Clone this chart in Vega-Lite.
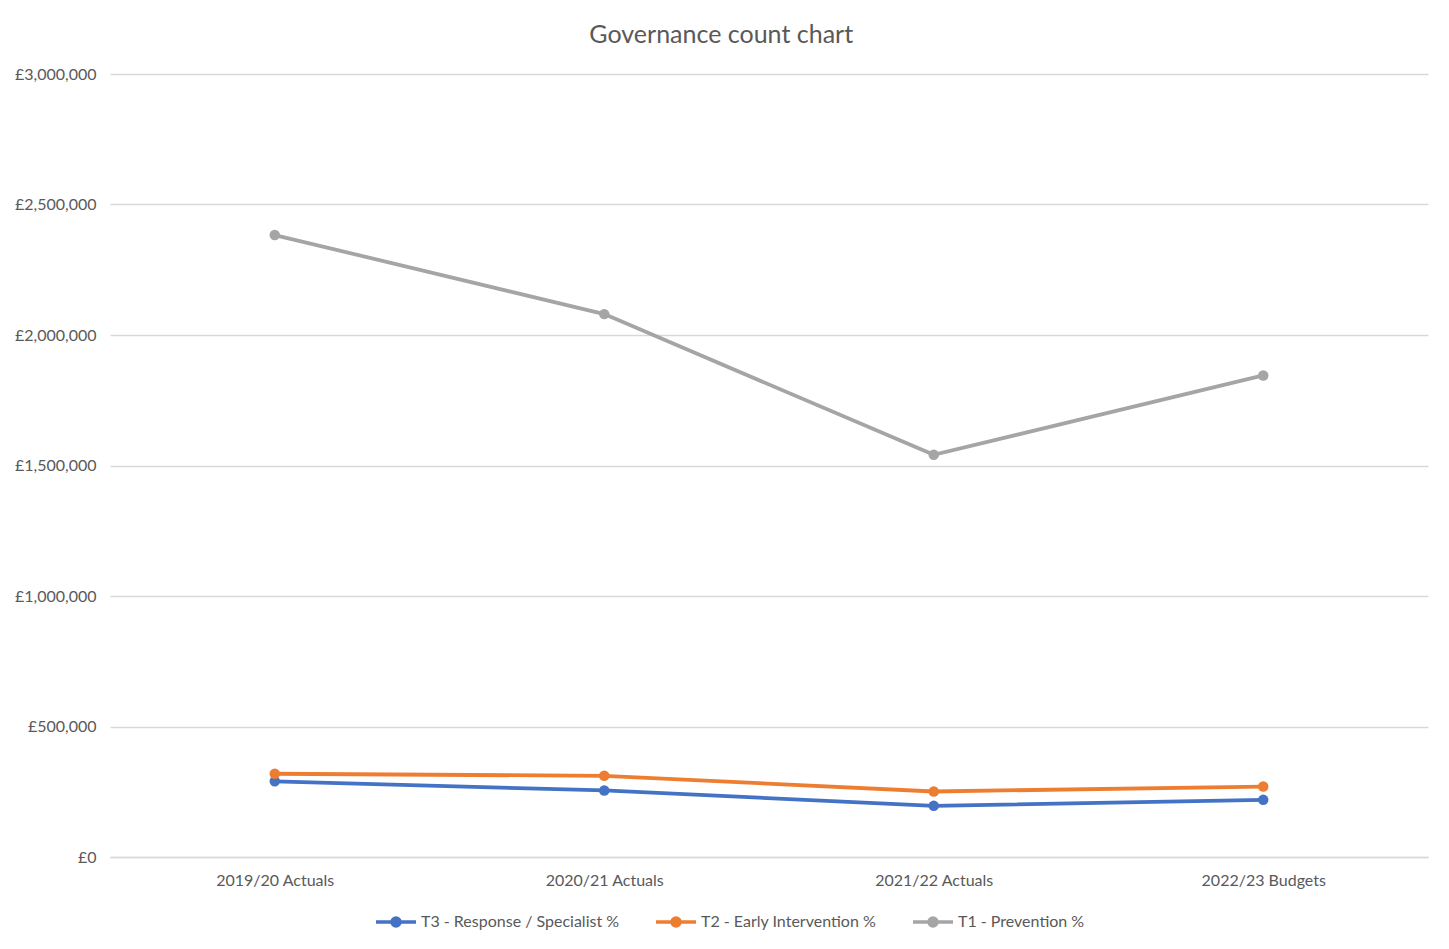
{
  "$schema": "https://vega.github.io/schema/vega-lite/v6.json",
  "autosize": {"type": "none"},
  "width": 1318,
  "height": 783,
  "padding": {"left": 110, "top": 74, "right": 21, "bottom": 92},
  "background": "#ffffff",
  "title": {
    "text": "Governance count chart",
    "frame": "bounds",
    "anchor": "middle",
    "offset": 18,
    "font": "Lato",
    "fontSize": 25,
    "fontWeight": "normal",
    "color": "#595959"
  },
  "data": {
    "values": [
      {"year": "2019/20 Actuals", "series": "T3 - Response / Specialist %", "amount": 290000},
      {"year": "2020/21 Actuals", "series": "T3 - Response / Specialist %", "amount": 255000},
      {"year": "2021/22 Actuals", "series": "T3 - Response / Specialist %", "amount": 196000},
      {"year": "2022/23 Budgets", "series": "T3 - Response / Specialist %", "amount": 219000},
      {"year": "2019/20 Actuals", "series": "T2 - Early Intervention %", "amount": 319000},
      {"year": "2020/21 Actuals", "series": "T2 - Early Intervention %", "amount": 311000},
      {"year": "2021/22 Actuals", "series": "T2 - Early Intervention %", "amount": 251000},
      {"year": "2022/23 Budgets", "series": "T2 - Early Intervention %", "amount": 270000},
      {"year": "2019/20 Actuals", "series": "T1 - Prevention %", "amount": 2383000},
      {"year": "2020/21 Actuals", "series": "T1 - Prevention %", "amount": 2080000},
      {"year": "2021/22 Actuals", "series": "T1 - Prevention %", "amount": 1541000},
      {"year": "2022/23 Budgets", "series": "T1 - Prevention %", "amount": 1845000}
    ]
  },
  "mark": {"type": "line", "strokeWidth": 3.8, "point": {"size": 110, "filled": true, "opacity": 1}},
  "encoding": {
    "x": {
      "field": "year",
      "type": "nominal",
      "sort": null,
      "scale": {"type": "point", "padding": 0.5},
      "axis": {
        "title": null,
        "labelAngle": 0,
        "ticks": false,
        "domain": true,
        "domainColor": "#d9d9d9",
        "domainWidth": 1.5,
        "grid": false,
        "labelPadding": 15,
        "labelFont": "Lato",
        "labelFontSize": 16,
        "labelColor": "#595959"
      }
    },
    "y": {
      "field": "amount",
      "type": "quantitative",
      "scale": {"domain": [0, 3000000]},
      "axis": {
        "title": null,
        "values": [0, 500000, 1000000, 1500000, 2000000, 2500000, 3000000],
        "labelExpr": "'£' + format(datum.value, ',')",
        "ticks": false,
        "domain": false,
        "grid": true,
        "gridColor": "#d9d9d9",
        "gridWidth": 1.5,
        "labelPadding": 14,
        "labelFont": "Lato",
        "labelFontSize": 16,
        "labelColor": "#595959"
      }
    },
    "color": {
      "field": "series",
      "type": "nominal",
      "sort": ["T3 - Response / Specialist %", "T2 - Early Intervention %", "T1 - Prevention %"],
      "scale": {
        "domain": ["T3 - Response / Specialist %", "T2 - Early Intervention %", "T1 - Prevention %"],
        "range": ["#4472C4", "#ED7D31", "#A5A5A5"]
      },
      "legend": {
        "title": null,
        "orient": "none",
        "direction": "horizontal",
        "legendX": 264,
        "legendY": 826,
        "symbolType": "M-1,0H1M-0.2,0A0.2,0.2 0 1,1 0.2,0A0.2,0.2 0 1,1 -0.2,0Z",
        "symbolSize": 1600,
        "symbolStrokeWidth": 3.5,
        "labelOffset": 3,
        "labelLimit": 0,
        "columnPadding": 29,
        "labelFont": "Lato",
        "labelFontSize": 16,
        "labelColor": "#595959"
      }
    }
  },
  "config": {
    "view": {"stroke": null}
  }
}
